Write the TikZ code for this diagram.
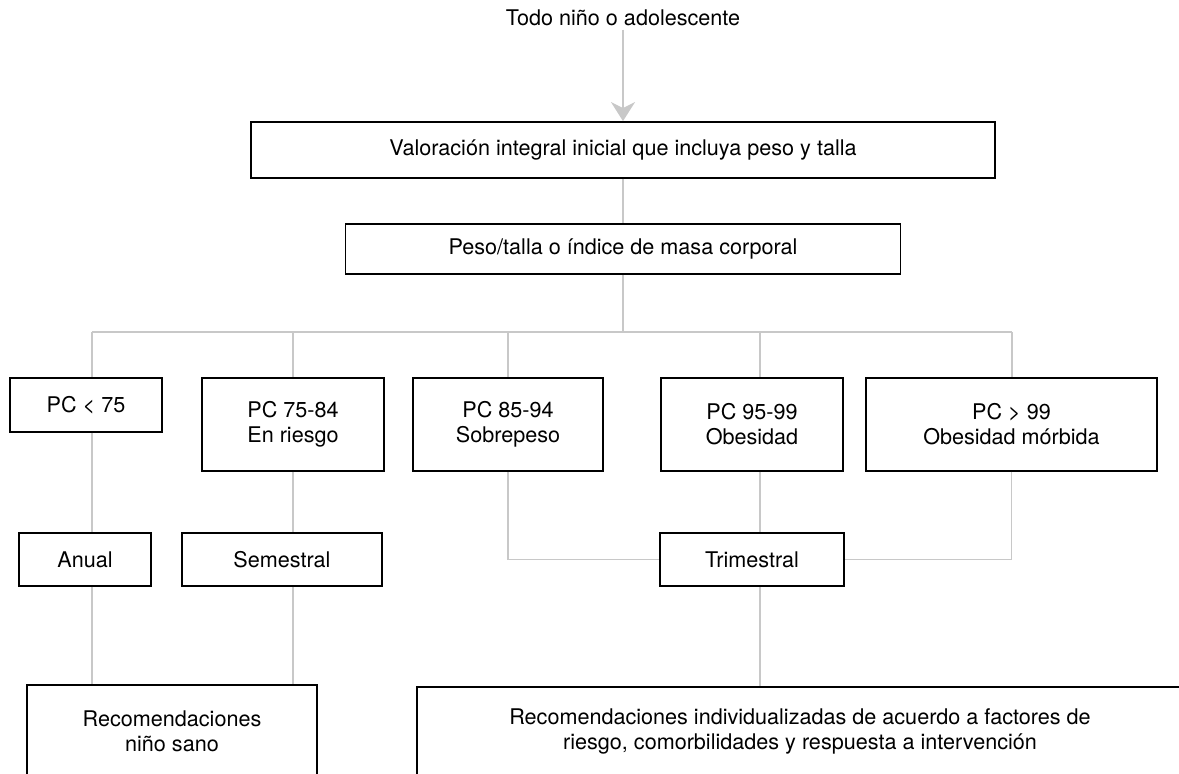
\documentclass[tikz,border=0pt]{standalone}
\usepackage{fontspec}
\setmainfont{TeX Gyre Heros}
\usetikzlibrary{arrows.meta}
\definecolor{linegray}{RGB}{200,200,200}

\begin{document}
\begin{tikzpicture}[x=1pt, y=-1pt,
  every node/.style={font=\fontsize{21.6}{25}\selectfont, align=center},
  box/.style={draw=black, line width=1.8pt, inner sep=0pt},
  link/.style={draw=linegray, line width=1.6pt}]
\useasboundingbox[fill=white] (0,0) rectangle (1179,774);
\clip (0,0) rectangle (1179,774);
% \tikzstyle{every node}=[draw=black, minimum height=54pt]
\node (todo) at (623,18) {Todo niño o adolescente};
\node[box, minimum width=744pt, minimum height=56pt] (val) at (623,150) {Valoración integral inicial que incluya peso y talla};
\node[box, minimum width=555pt, minimum height=50pt] (peso) at (623,249) {Peso/talla o índice de masa corporal};

\coordinate (b1) at (92,332);
\coordinate (b2) at (293,332);
\coordinate (b3) at (508,332);
\coordinate (b4) at (760,332);
\coordinate (b5) at (1012,332);

\node[box, minimum width=152pt, minimum height=54pt] (pc1) at (86,405) {PC < 75};
\node[box, minimum width=182pt, minimum height=93pt] (pc2) at (293,424.5) {PC 75-84\\En riesgo};
\node[box, minimum width=190pt, minimum height=93pt] (pc3) at (508,424.5) {PC 85-94\\Sobrepeso};
\node[box, minimum width=182pt, minimum height=93pt] (pc4) at (752,424.5) {PC 95-99\\Obesidad};
\node[box, minimum width=291pt, minimum height=93pt] (pc5) at (1011.5,424.5) {PC > 99\\Obesidad mórbida};

\node[box, minimum width=132pt, minimum height=53pt] (anual) at (85,559.5) {Anual};
\node[box, minimum width=200pt, minimum height=53pt] (semes) at (282,559.5) {Semestral};
\node[box, minimum width=184pt, minimum height=53pt] (trim) at (752,559.5) {Trimestral};

\node[box, minimum width=290pt, minimum height=92pt] (reco1) at (172,731) {Recomendaciones\\niño sano};
\node[box, minimum width=766pt, minimum height=88pt] (reco2) at (800,731) {Recomendaciones individualizadas de acuerdo a factores de\\riesgo, comorbilidades y respuesta a intervención};

\draw[link, -{Stealth[length=19pt, width=24pt, inset=6pt, fill=linegray]}] (todo) -- (val);
\draw[link] (val) -- (peso);
\draw[link] (peso) -- (peso.south |- b1);
\draw[link] (b1) -- (b5);
\foreach \i in {1,...,5}
  \draw[link] (b\i) -- (b\i |- pc\i.north);
\draw[link] (pc1.south -| b1) -- (anual.north -| b1);
\draw[link] (pc2.south -| b2) -- (semes.north -| b2);
\draw[link] (pc4.south -| b4) -- (trim.north -| b4);
\draw[link] (pc3.south) |- (trim.west);
\draw[link] (pc5.south) |- (trim.east);
\draw[link] (anual.south -| b1) -- (reco1.north -| b1);
\draw[link] (semes.south -| b2) -- (reco1.north -| b2);
\draw[link] (trim.south -| b4) -- (reco2.north -| b4);
\end{tikzpicture}
\end{document}
